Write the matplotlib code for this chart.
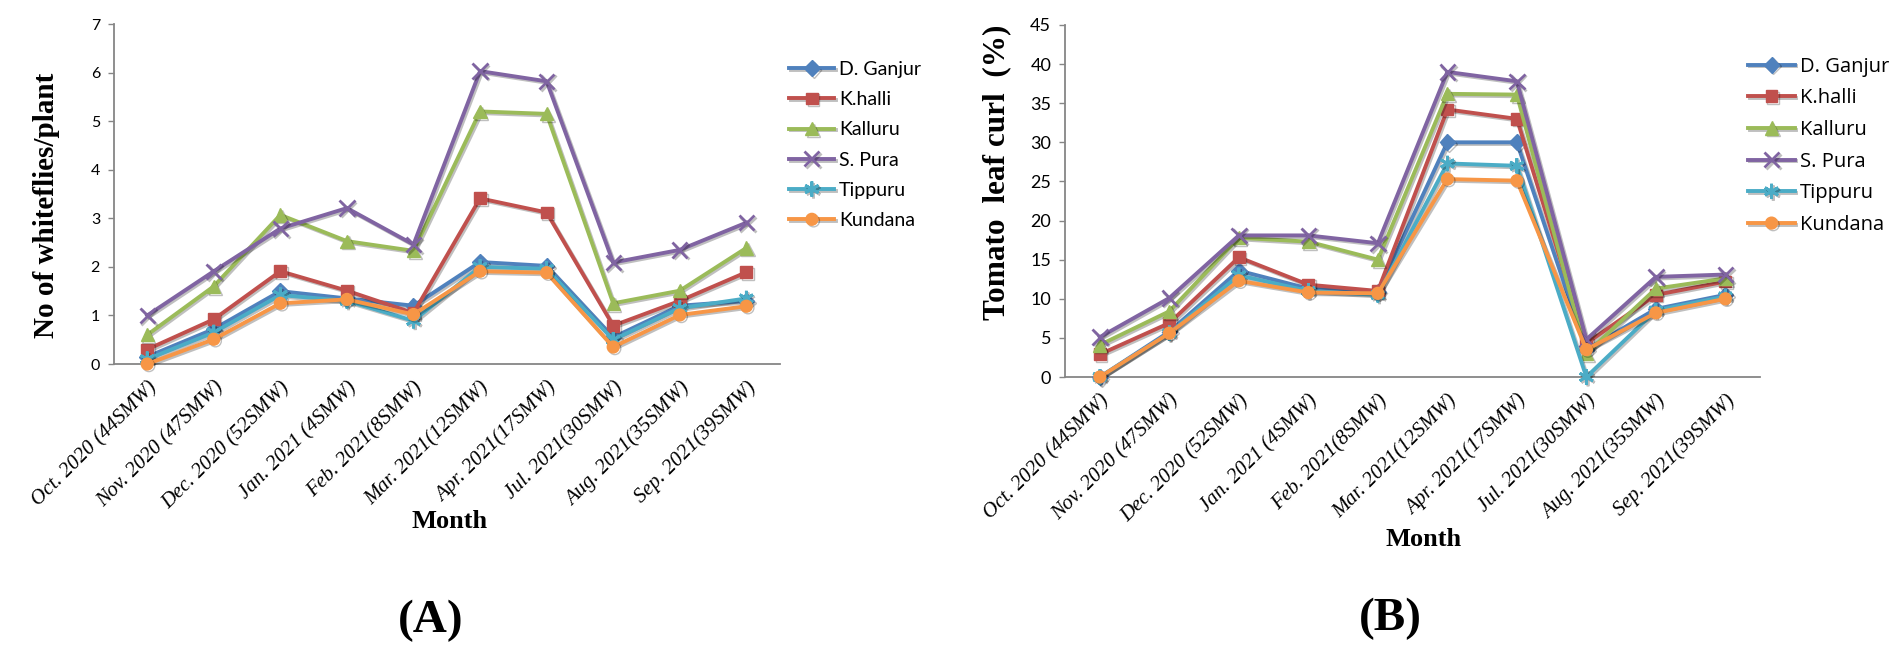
import numpy as np
import matplotlib
matplotlib.use('Agg')
import matplotlib.pyplot as plt
import matplotlib.patheffects as pe

plt.rcParams['font.family'] = ['Lato', 'DejaVu Sans']

months = ['Oct. 2020 (44SMW)', 'Nov. 2020 (47SMW)', 'Dec. 2020 (52SMW)', 'Jan. 2021 (4SMW)',
          'Feb. 2021(8SMW)', 'Mar. 2021(12SMW)', 'Apr. 2021(17SMW)', 'Jul. 2021(30SMW)',
          'Aug. 2021(35SMW)', 'Sep. 2021(39SMW)']
places = ['D. Ganjur', 'K.halli', 'Kalluru', 'S. Pura', 'Tippuru', 'Kundana']

# (A) whiteflies per plant
wf_dganjur = [0.15, 0.72, 1.50, 1.35, 1.20, 2.10, 2.02, 0.55, 1.20, 1.30]
wf_khalli = [0.30, 0.92, 1.91, 1.51, 1.05, 3.41, 3.12, 0.79, 1.30, 1.89]
wf_kalluru = [0.60, 1.60, 3.07, 2.53, 2.33, 5.20, 5.15, 1.25, 1.51, 2.39]
wf_spura = [1.00, 1.91, 2.79, 3.21, 2.46, 6.03, 5.82, 2.09, 2.35, 2.91]
wf_tippuru = [0.10, 0.65, 1.42, 1.30, 0.89, 2.00, 1.96, 0.50, 1.15, 1.35]
wf_kundana = [0.00, 0.51, 1.25, 1.33, 1.02, 1.91, 1.88, 0.35, 1.01, 1.19]

# (B) tomato leaf curl (%)
lc_dganjur = [0.0, 5.8, 13.6, 11.3, 10.9, 30.0, 30.0, 3.5, 8.7, 10.5]
lc_khalli = [2.9, 6.9, 15.3, 11.8, 11.0, 34.2, 33.0, 4.3, 10.5, 12.2]
lc_kalluru = [4.1, 8.4, 17.8, 17.3, 15.0, 36.2, 36.1, 3.0, 11.3, 12.6]
lc_spura = [5.1, 10.1, 18.1, 18.1, 17.1, 39.0, 37.8, 4.8, 12.8, 13.1]
lc_tippuru = [0.0, 5.6, 13.0, 11.0, 10.5, 27.3, 27.0, 0.0, 8.5, 10.3]
lc_kundana = [0.0, 5.6, 12.3, 10.8, 10.7, 25.3, 25.1, 3.5, 8.2, 10.0]

colors = ['#4F81BD', '#C0504D', '#9BBB59', '#8064A2', '#4BACC6', '#F79646']
markers = ['D', 's', '^', 'x', (6, 2, 0), 'o']
msizes = [8, 8.5, 9.5, 11, 11, 8.5]

fig = plt.figure(figsize=(19.02, 6.49), dpi=100)

def draw_panel(rect, series, ymax, ystep, tick_fs, leg_font, leg_fs, leg_space, leg_anchor):
    ax = fig.add_axes(rect)
    x = np.arange(len(months))
    for vals, name, c, m, ms in zip(series, places, colors, markers, msizes):
        ax.plot(x, vals, color=c, lw=2.8, marker=m, markersize=ms,
                markeredgewidth=2 if m in ('x', (6, 2, 0)) else 1,
                markeredgecolor=c, label=name, clip_on=False, zorder=3,
                path_effects=[pe.SimpleLineShadow(offset=(1.2, -1.2), alpha=0.25), pe.Normal()])
    ax.set_xlim(-0.5, len(months) - 0.5)
    ax.set_ylim(0, ymax)
    ax.set_yticks(np.arange(0, ymax + 0.1, ystep))
    ax.set_xticks(x)
    ax.set_xticklabels(months, rotation=45, ha='right', rotation_mode='anchor',
                       family='Liberation Serif', style='italic', fontsize=15)
    for lab in ax.get_yticklabels():
        lab.set_fontsize(tick_fs)
    ax.tick_params(axis='x', length=0, pad=10)
    ax.tick_params(axis='y', length=4, width=1, color='#868686', pad=6)
    for s in ['top', 'right']:
        ax.spines[s].set_visible(False)
    for s in ['left', 'bottom']:
        ax.spines[s].set_color('#868686')
        ax.spines[s].set_linewidth(1.3)
    ax.legend(loc='upper left', bbox_to_anchor=leg_anchor, bbox_transform=fig.transFigure,
              frameon=False, handlelength=2.3, handletextpad=0.25, labelspacing=leg_space,
              prop={'family': leg_font, 'size': leg_fs}, borderaxespad=0)
    return ax

draw_panel([0.0599, 0.4391, 0.350, 0.5239],
           [wf_dganjur, wf_khalli, wf_kalluru, wf_spura, wf_tippuru, wf_kundana],
           7, 1, 11.5, 'Lato', 14, 0.68, (0.411, 0.918))
draw_panel([0.560, 0.4191, 0.3654, 0.5424],
           [lc_dganjur, lc_khalli, lc_kalluru, lc_spura, lc_tippuru, lc_kundana],
           45, 5, 13, 'Open Sans', 14.5, 0.58, (0.915, 0.925))

serif = 'Liberation Serif'
fig.text(47 / 1902, 1 - 205 / 649, 'No of whiteflies/plant', rotation=90, ha='center', va='center',
         family=serif, weight='bold', fontsize=21)
fig.text(997 / 1902, 1 - 172 / 649, 'Tomato  leaf curl  (%)', rotation=90, ha='center', va='center',
         family=serif, weight='bold', fontsize=22.5)
fig.text(450 / 1902, 1 - 521 / 649, 'Month', ha='center', va='center',
         family=serif, weight='bold', fontsize=19)
fig.text(1424 / 1902, 1 - 540 / 649, 'Month', ha='center', va='center',
         family=serif, weight='bold', fontsize=19)
fig.text(431 / 1902, 1 - 621 / 649, '(A)', ha='center', va='center',
         family=serif, weight='bold', fontsize=34)
fig.text(1390 / 1902, 1 - 619 / 649, '(B)', ha='center', va='center',
         family=serif, weight='bold', fontsize=34)

fig.savefig('out.png', dpi=100)
